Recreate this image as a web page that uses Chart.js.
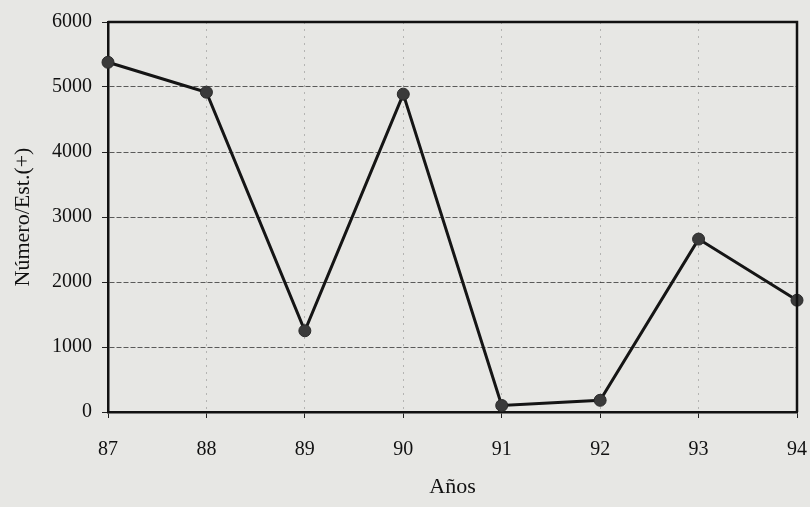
<!DOCTYPE html>
<html>
<head>
<meta charset="utf-8">
<script src="https://cdn.jsdelivr.net/npm/chart.js@4"></script>
<style>
  html, body { margin: 0; padding: 0; background: #e7e7e4; }
  #wrap { width: 810px; height: 507px; position: relative; }
</style>
</head>
<body>
<div id="wrap"><canvas id="chart"></canvas></div>
<script>
// --- chart data ---
const years = ['87', '88', '89', '90', '91', '92', '93', '94'];
const counts = [5380, 4920, 1250, 4890, 100, 180, 2660, 1720];
const yTicks = [0, 1000, 2000, 3000, 4000, 5000, 6000];

const serif = "'Liberation Serif', 'DejaVu Serif', serif";

// draws the closed frame around the plot area (top and right edges)
const frame = {
    id: 'frame',
    afterDraw(chart) {
        const { ctx, chartArea: a } = chart;
        ctx.save();
        ctx.strokeStyle = '#111';
        ctx.lineWidth = 2.5;
        ctx.beginPath();
        ctx.moveTo(a.left, a.top);
        ctx.lineTo(a.right, a.top);
        ctx.lineTo(a.right, a.bottom);
        ctx.stroke();
        ctx.restore();
    }
};

new Chart(document.getElementById('chart'), {
    type: 'line',
    data: {
        labels: years,
        datasets: [{
            data: counts,
            borderColor: '#151515',
            borderWidth: 3,
            pointRadius: 6,
            pointBackgroundColor: '#3a3a3a',
            pointBorderColor: '#2a2a2a',
            pointBorderWidth: 1,
            tension: 0,
            clip: false
        }]
    },
    options: {
        responsive: true,
        maintainAspectRatio: false,
        animation: false,
        layout: { padding: { top: 20, right: 0, left: 0, bottom: 0 } },
        plugins: {
            legend: { display: false },
            tooltip: { enabled: false }
        },
        scales: {
            x: {
                type: 'category',
                offset: false,
                grid: {
                    color: 'rgba(0,0,0,0.22)',
                    lineWidth: 1,
                    drawTicks: true,
                    tickLength: 6,
                    tickColor: '#222'
                },
                border: { color: '#111', width: 2.5, dash: [2, 5] },
                ticks: {
                    color: '#111',
                    font: { family: serif, size: 20 },
                    padding: 20,
                    maxRotation: 0
                },
                title: {
                    display: true,
                    text: 'Años',
                    color: '#111',
                    font: { family: serif, size: 22 },
                    padding: { top: 8, bottom: 7 }
                },
                afterFit(scale) {
                    scale.height = 95;
                    scale.paddingRight = 13;
                }
            },
            y: {
                min: 0,
                max: 6000,
                afterBuildTicks(scale) { scale.ticks = yTicks.map(v => ({ value: v })); },
                grid: {
                    color: 'rgba(30,30,30,0.7)',
                    lineWidth: 1,
                    tickLength: 6,
                    tickColor: '#222'
                },
                border: { color: '#111', width: 2.5, dash: [5, 2] },
                ticks: {
                    color: '#111',
                    font: { family: serif, size: 20 },
                    padding: 10,
                    callback: v => String(v)
                },
                title: {
                    display: true,
                    text: 'Número/Est.(+)',
                    color: '#111',
                    font: { family: serif, size: 22 },
                    padding: { top: 10, bottom: 8 }
                },
                afterFit(scale) { scale.width = 108; }
            }
        }
    },
    plugins: [frame]
});
</script>
</body>
</html>
